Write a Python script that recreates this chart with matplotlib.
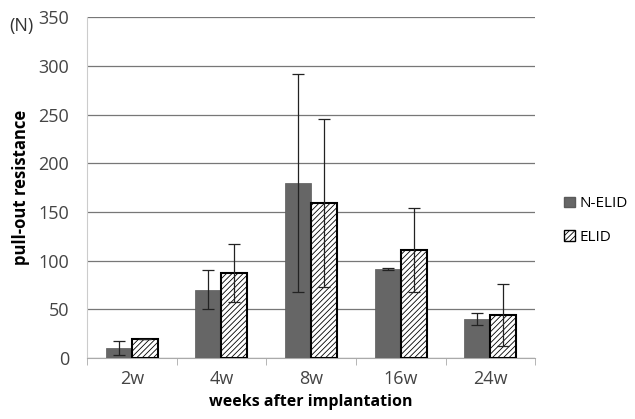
import matplotlib
matplotlib.use('Agg')
import matplotlib.pyplot as plt
import numpy as np
from matplotlib.patches import Patch

plt.rcParams['font.family'] = ['Open Sans', 'DejaVu Sans']
plt.rcParams['hatch.linewidth'] = 0.6

weeks = ['2w', '4w', '8w', '16w', '24w']
n_elid = [10, 70, 180, 91, 40]
n_elid_err = [7, 20, 112, 1, 6]
elid = [20, 87, 159, 111, 44]
elid_err = [0, 30, 86, 43, 32]

fig = plt.figure(figsize=(6.35, 4.19), dpi=100)
ax = fig.add_axes([0.137, 0.1456, 0.706, 0.8134])

x = np.arange(len(weeks))
w = 0.29
ax.bar(x - w / 2, n_elid, w, color='#666666', edgecolor='#5a5a5a', linewidth=0.5, zorder=3)
ax.bar(x + w / 2, elid, w, color='white', edgecolor='black', linewidth=1.5,
       hatch='//////', zorder=3)
ax.errorbar(x - w / 2, n_elid, yerr=n_elid_err, fmt='none', ecolor='#222222',
            elinewidth=0.9, capsize=4, capthick=0.9, zorder=4)
ax.errorbar(x + w / 2, elid, yerr=elid_err, fmt='none', ecolor='#222222',
            elinewidth=0.9, capsize=4, capthick=0.9, zorder=4)

ax.set_ylim(0, 350)
ax.set_xlim(-0.5, len(weeks) - 0.5)
ax.set_yticks(range(0, 351, 50))
ax.yaxis.grid(True, color='#777777', linewidth=0.9, zorder=0)
ax.set_axisbelow(True)

for s in ['top', 'right']:
    ax.spines[s].set_visible(False)
ax.spines['left'].set_color('#cccccc')
ax.spines['bottom'].set_color('#aaaaaa')

ax.set_xticks(x)
ax.set_xticklabels(weeks)
ax.set_xticks(np.arange(-0.5, len(weeks), 1), minor=True)
ax.tick_params(axis='x', which='major', length=0, labelsize=13, pad=9, colors='#444444')
ax.tick_params(axis='x', which='minor', length=5, color='#aaaaaa')
ax.tick_params(axis='y', length=0, labelsize=13, pad=13, colors='#444444')

ax.set_xlabel('weeks after implantation', fontsize=11.5, fontweight='bold', labelpad=4)
ax.set_ylabel('pull-out resistance', fontsize=12, fontweight='bold', labelpad=6)
fig.text(0.014, 0.925, '(N)', fontsize=13, color='#333333')

handles = [Patch(facecolor='#666666', edgecolor='#5a5a5a', label='N-ELID'),
           Patch(facecolor='white', edgecolor='black', hatch='//////', label='ELID')]
fig.legend(handles=handles, loc='center left', bbox_to_anchor=(0.872, 0.474),
           frameon=False, fontsize=11, handlelength=0.7, handleheight=0.7,
           handletextpad=0.3, labelspacing=1.2, borderpad=0.2)

fig.savefig('out.png', dpi=100)
